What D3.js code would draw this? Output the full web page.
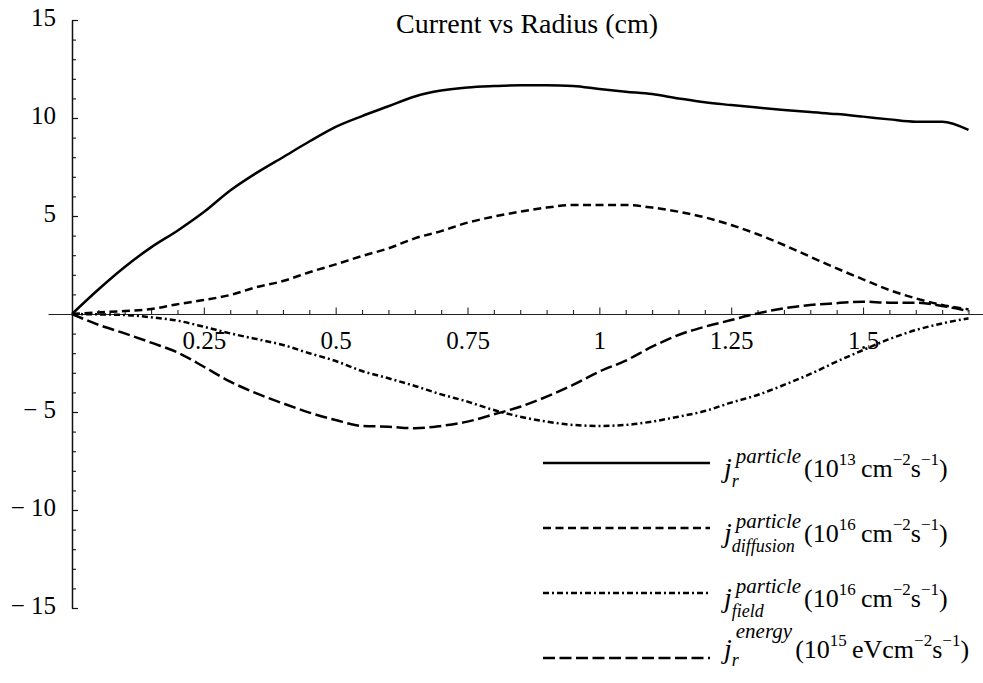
<!DOCTYPE html>
<html>
<head>
<meta charset="utf-8">
<script src="https://cdn.jsdelivr.net/npm/d3@7"></script>
<style>
  html, body { margin: 0; padding: 0; background: #fff; }
  svg { display: block; }
  text { font-family: "Liberation Serif", "Times New Roman", serif; fill: #000; }
</style>
</head>
<body>
<svg id="chart" width="983" height="683"></svg>
<script>
// Radius samples (cm)
const radius = [0, 0.05, 0.1, 0.15, 0.2, 0.25, 0.3, 0.35, 0.4, 0.45, 0.5, 0.55, 0.6, 0.65, 0.7,
  0.75, 0.8, 0.85, 0.9, 0.95, 1.0, 1.05, 1.1, 1.15, 1.2, 1.25, 1.3, 1.35, 1.4, 1.45, 1.5,
  1.55, 1.6, 1.65, 1.7];

// j_r particle (1e13 cm^-2 s^-1)
const jParticle = [0, 1.25, 2.4, 3.4, 4.25, 5.2, 6.3, 7.2, 8.0, 8.8, 9.55, 10.1, 10.6, 11.1,
  11.4, 11.56, 11.63, 11.67, 11.67, 11.63, 11.48, 11.34, 11.22, 11.0, 10.8, 10.66, 10.53,
  10.41, 10.3, 10.2, 10.07, 9.93, 9.81, 9.81, 9.39];

// j diffusion particle (1e16 cm^-2 s^-1)
const jDiffusion = [0, 0.08, 0.15, 0.25, 0.5, 0.71, 0.97, 1.37, 1.68, 2.13, 2.53, 2.96, 3.35, 3.86,
  4.23, 4.66, 4.97, 5.22, 5.43, 5.56, 5.56, 5.56, 5.43, 5.22, 4.93, 4.54, 4.07, 3.52, 2.92,
  2.33, 1.77, 1.22, 0.8, 0.46, 0.24];

// j field particle (1e16 cm^-2 s^-1)
const jField = [0, -0.02, -0.05, -0.17, -0.34, -0.65, -0.99, -1.28, -1.58, -2.0, -2.4, -2.91, -3.28,
  -3.67, -4.1, -4.47, -4.9, -5.24, -5.49, -5.66, -5.71, -5.66, -5.49, -5.24, -4.95, -4.52,
  -4.13, -3.62, -3.06, -2.43, -1.84, -1.28, -0.82, -0.48, -0.22];

// j_r energy (1e15 eV cm^-2 s^-1)
const jEnergy = [0, -0.55, -0.99, -1.46, -1.96, -2.69, -3.45, -4.05, -4.56, -5.03, -5.41, -5.71,
  -5.75, -5.83, -5.71, -5.49, -5.12, -4.73, -4.22, -3.62, -2.94, -2.38, -1.67, -1.07, -0.65,
  -0.31, 0.03, 0.29, 0.46, 0.55, 0.63, 0.58, 0.58, 0.41, 0.15];

const xMajorTicks = [0.25, 0.5, 0.75, 1, 1.25, 1.5];
const xMajorLabels = ["0.25", "0.5", "0.75", "1", "1.25", "1.5"];
const yMajorTicks = [-15, -10, -5, 5, 10, 15];
const yMajorLabels = ["\u2212 15", "\u2212 10", "\u2212 5", "5", "10", "15"];

const title = "Current vs Radius (cm)";

const series = [
  { values: jParticle, dash: null,
    label: { sup: "particle", sub: "r", pre: "10", exp: "13", unit: "cm" } },
  { values: jDiffusion, dash: "8,4.5",
    label: { sup: "particle", sub: "diffusion", pre: "10", exp: "16", unit: "cm" } },
  { values: jField, dash: "6,3,2,3",
    label: { sup: "particle", sub: "field", pre: "10", exp: "16", unit: "cm" } },
  { values: jEnergy, dash: "12,4.5",
    label: { sup: "energy", sub: "r", pre: "10", exp: "15", unit: "eVcm" } }
];

const svg = d3.select("#chart");

const x = d3.scaleLinear().domain([-0.0455, 1.7275]).range([48, 983]);
const y = d3.scaleLinear().domain([-15, 15]).range([608, 20]);

// minor ticks every 0.05 along r, every 1 along the current axis
const xMinor = d3.range(1, 35).map(i => +(i * 0.05).toFixed(2)).filter(v => !xMajorTicks.includes(v));
const yMinor = d3.range(-14, 15).filter(v => v !== 0 && v % 5 !== 0);

const serif = "'Liberation Serif', 'Times New Roman', serif";

// x axis through zero, ticks pointing up
const gx = svg.append("g").attr("transform", `translate(0,${y(0)})`);
gx.call(d3.axisBottom(x).tickValues(xMajorTicks).tickSizeInner(-6.5).tickSizeOuter(0).tickPadding(17)
  .tickFormat((d, i) => xMajorLabels[i]));
gx.attr("font-family", null);
gx.select(".domain").attr("stroke", "#222").attr("stroke-width", 1.2);
gx.selectAll(".tick line").attr("stroke", "#222").attr("stroke-width", 1.1);
gx.selectAll(".tick text").style("font-size", "25px").style("font-family", serif);
const gxm = svg.append("g").attr("transform", `translate(0,${y(0)})`);
gxm.call(d3.axisBottom(x).tickValues(xMinor).tickSizeInner(-4).tickSizeOuter(0).tickFormat(""));
gxm.select(".domain").remove();
gxm.selectAll(".tick line").attr("stroke", "#222").attr("stroke-width", 1.1);

// y axis at r = 0, ticks pointing right
const gy = svg.append("g").attr("transform", `translate(${x(0)},0)`);
gy.call(d3.axisLeft(y).tickValues(yMajorTicks).tickSizeInner(-6).tickSizeOuter(0).tickPadding(16)
  .tickFormat((d, i) => yMajorLabels[i]));
gy.attr("font-family", null);
gy.select(".domain").attr("stroke", "#111").attr("stroke-width", 1.5);
gy.selectAll(".tick line").attr("stroke", "#111").attr("stroke-width", 1.2);
gy.selectAll(".tick text").style("font-size", "25px").style("font-family", serif)
  .attr("dy", "0.22em");
const gym = svg.append("g").attr("transform", `translate(${x(0)},0)`);
gym.call(d3.axisLeft(y).tickValues(yMinor).tickSizeInner(-4).tickSizeOuter(0).tickFormat(""));
gym.select(".domain").remove();
gym.selectAll(".tick line").attr("stroke", "#111").attr("stroke-width", 1.1);

// curves
const line = d3.line()
  .x((d, i) => x(radius[i]))
  .y(d => y(d))
  .curve(d3.curveMonotoneX);

series.forEach(s => {
  svg.append("path")
    .attr("d", line(s.values))
    .attr("fill", "none")
    .attr("stroke", "#000")
    .attr("stroke-width", 2.5)
    .attr("stroke-dasharray", s.dash);
});

// title
svg.append("text")
  .attr("x", 527).attr("y", 33)
  .attr("text-anchor", "middle")
  .style("font-size", "28px")
  .text(title);

// legend: sample line plus j with stacked super/subscript and units
const legX0 = 543, legX1 = 710, legY0 = 463, legStep = 65;
const textBase = [477, 542, 607, 658];
const supRaise = [14, 14, 14, 20];
const subDrop = [10, 10, 10, 8];
series.forEach((s, i) => {
  const ly = legY0 + i * legStep;
  svg.append("line")
    .attr("x1", legX0).attr("x2", legX1).attr("y1", ly).attr("y2", ly)
    .attr("stroke", "#000").attr("stroke-width", 2.5)
    .attr("stroke-dasharray", s.dash);

  const base = textBase[i];
  const g = svg.append("g");
  const j = g.append("text").attr("x", 724).attr("y", base)
    .style("font-size", "28px").style("font-style", "italic").text("j");
  const sx = 724 + j.node().getComputedTextLength() + 4;
  const sup = g.append("text").attr("x", sx).attr("y", base - supRaise[i])
    .style("font-size", "21px").style("font-style", "italic").text(s.label.sup);
  const sub = g.append("text").attr("x", sx - 4).attr("y", base + subDrop[i])
    .style("font-size", "18px").style("font-style", "italic").text(s.label.sub);
  const w = Math.max(sup.node().getComputedTextLength(), sub.node().getComputedTextLength() - 4);
  const t = g.append("text").attr("x", sx + w + 3).attr("y", base).style("font-size", "26px");
  t.append("tspan").text("(" + s.label.pre);
  t.append("tspan").attr("dy", -12).style("font-size", "17px").text(s.label.exp);
  t.append("tspan").attr("dy", 12).text("\u2009" + s.label.unit);
  t.append("tspan").attr("dy", -12).style("font-size", "17px").text("\u22122");
  t.append("tspan").attr("dy", 12).text("s");
  t.append("tspan").attr("dy", -12).style("font-size", "17px").text("\u22121");
  t.append("tspan").attr("dy", 12).text(")");
});
</script>
</body>
</html>
